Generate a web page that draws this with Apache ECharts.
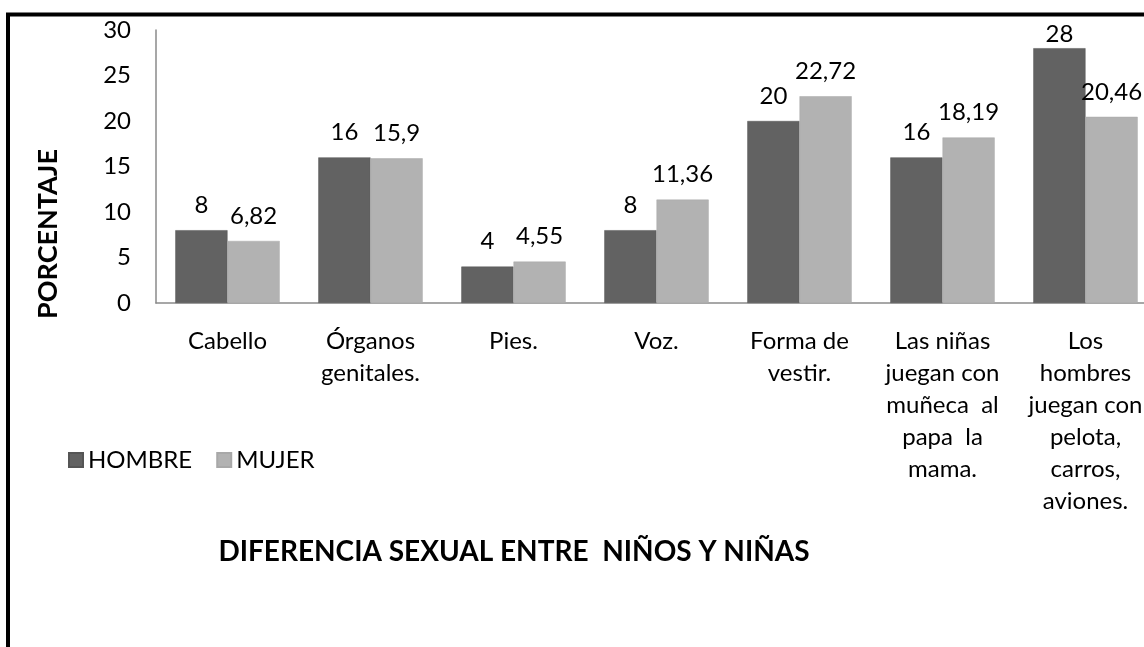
<!DOCTYPE html>
<html>
<head>
<meta charset="utf-8">
<script src="https://cdn.jsdelivr.net/npm/echarts@6/dist/echarts.min.js"></script>
<style>
html,body{margin:0;padding:0;background:#fff;}
#chart{width:1144px;height:647px;}
</style>
</head>
<body>
<div id="chart"></div>
<script>
var categories = [
  "Cabello",
  "Órganos\ngenitales.",
  "Pies.",
  "Voz.",
  "Forma de\nvestir.",
  "Las niñas\njuegan con\nmuñeca  al\npapa  la\nmama.",
  "Los\nhombres\njuegan con\npelota,\ncarros,\naviones."
];
var hombre = [8, 16, 4, 8, 20, 16, 28];
var mujer = [6.82, 15.9, 4.55, 11.36, 22.72, 18.19, 20.46];
var yTicks = [0, 5, 10, 15, 20, 25, 30];
var seriesNames = ["HOMBRE", "MUJER"];
var titleText = "DIFERENCIA SEXUAL ENTRE  NIÑOS Y NIÑAS";
var yName = "PORCENTAJE";

var FONT = "Lato";
var Y_MAX = 30;
var chart = echarts.init(document.getElementById('chart'), null, {renderer: 'canvas'});
function fmt(p){ return String(p.value).replace('.', ','); }
var labelStyle = {show: true, position: 'top', distance: 13, color: '#000', fontFamily: FONT, fontSize: 24, formatter: fmt};
// labels near the top of the plot are pulled down to stay inside it (as in the source)
function toItems(arr){
  return arr.map(function(v){
    return v > Y_MAX - 3 ? {value: v, label: {distance: 2}} : v;
  });
}
chart.setOption({
  animation: false,
  backgroundColor: '#fff',
  title: {
    text: titleText,
    left: 509, top: 533, textAlign: 'center',
    textStyle: {fontFamily: FONT, fontWeight: 'bold', fontSize: 28, color: '#000'}
  },
  legend: {
    left: 63, top: 443,
    icon: 'rect', itemWidth: 14, itemHeight: 14, itemGap: 24,
    textStyle: {fontFamily: FONT, fontSize: 24, color: '#000'},
    data: seriesNames
  },
  grid: {left: 156, top: 30, bottom: 344, right: -13, containLabel: false, outerBoundsMode: 'none'},
  xAxis: {
    type: 'category',
    data: categories,
    axisLine: {lineStyle: {color: '#8a8a8a', width: 1.5}},
    axisTick: {show: false},
    axisLabel: {interval: 0, margin: 22, fontFamily: FONT, fontSize: 24, lineHeight: 32, color: '#000', align: 'center'}
  },
  yAxis: {
    type: 'value',
    min: 0, max: Y_MAX, interval: 5,
    axisLine: {show: true, lineStyle: {color: '#8a8a8a', width: 1.5}},
    axisTick: {show: false},
    splitLine: {show: false},
    axisLabel: {margin: 25, fontFamily: FONT, fontSize: 24, color: '#000',
      formatter: function(v){ return yTicks.indexOf(v) >= 0 ? String(v) : ''; }}
  },
  series: [
    {name: seriesNames[0], type: 'bar', data: toItems(hombre), barGap: '0%', barCategoryGap: '27%',
     itemStyle: {color: '#626262', borderColor: '#555', borderWidth: 0.5}, label: labelStyle},
    {name: seriesNames[1], type: 'bar', data: toItems(mujer), barGap: '0%', barCategoryGap: '27%',
     itemStyle: {color: '#b2b2b2', borderColor: '#a8a8a8', borderWidth: 0.5}, label: labelStyle}
  ],
  graphic: [
    {type: 'polyline', shape: {points: [[8, 647], [8, 14.5], [1144, 14.5]]},
     style: {stroke: '#000', lineWidth: 4, fill: null}},
    {type: 'text', x: 48, y: 234, rotation: Math.PI / 2,
     style: {text: yName, fontFamily: FONT, fontWeight: 'bold', fontSize: 27, fill: '#000',
       textAlign: 'center', textVerticalAlign: 'middle'}}
  ]
});
</script>
</body>
</html>
